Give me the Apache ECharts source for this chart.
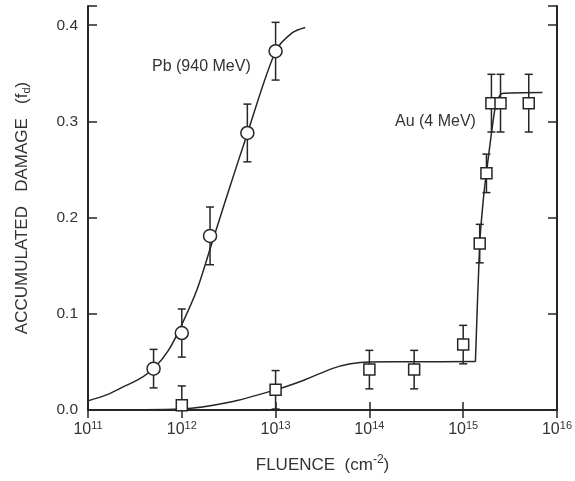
<!DOCTYPE html>
<html><head><meta charset="utf-8">
<script src="https://cdn.jsdelivr.net/npm/echarts@6/dist/echarts.min.js"></script>
<style>html,body{margin:0;padding:0;background:#fff}#c{width:575px;height:481px}</style>
</head><body><div id="c"></div>
<script>
// Pb (940 MeV) measurements
const pbX = [5e11, 1e12, 2e12, 5e12, 1e13];
const pbY = [0.043, 0.080, 0.181, 0.288, 0.373];
const pbErr = [0.020, 0.025, 0.030, 0.030, 0.030];
// Au (4 MeV) measurements
const auX = [1e12, 1e13, 1e14, 3e14, 1e15, 1.5e15, 1.77e15, 2e15, 2.5e15, 5e15];
const auY = [0.005, 0.021, 0.042, 0.042, 0.068, 0.173, 0.246, 0.319, 0.319, 0.319];
const auErr = [0.020, 0.020, 0.020, 0.020, 0.020, 0.020, 0.020, 0.030, 0.030, 0.030];
// fitted curves
const pbCurveX = [1e11, 1.6e11, 2.37e11, 3.5e11, 5.1e11, 7.2e11, 9.8e11, 1.45e12, 2.04e12, 2.95e12, 5.0e12, 1.0e13, 1.5e13, 2.07e13];
const pbCurveY = [0.0095, 0.016, 0.024, 0.032, 0.044, 0.062, 0.087, 0.125, 0.170, 0.219, 0.2875, 0.373, 0.392, 0.3976];
const auLowX = [1e11, 1e12, 3.2e12, 1e13, 2e13, 4e13, 6.3e13, 1e14, 3e14, 1.35e15];
const auLowY = [0.0, 0.001, 0.008, 0.021, 0.031, 0.043, 0.048, 0.050, 0.0502, 0.0503];
const auHighX = [1.35e15, 1.5e15, 1.64e15, 1.77e15, 2.17e15, 2.4e15, 2.6e15, 7e15];
const auHighY = [0.0503, 0.173, 0.219, 0.247, 0.312, 0.325, 0.329, 0.330];
const yTicks = [0.0, 0.1, 0.2, 0.3, 0.4];

const ink = '#262626';
const txt = '#333333';
const font = 'Liberation Sans, Arial, sans-serif';

function zip(a, b) { return a.map((v, i) => [v, b[i]]); }
function errData(xs, ys, es) { return xs.map((x, i) => [x, ys[i] - es[i], ys[i] + es[i]]); }

function errRender(params, api) {
  const x = api.value(0);
  let lo = api.value(1), hi = api.value(2);
  const clipped = lo < 0;
  if (clipped) lo = 0;
  const p1 = api.coord([x, hi]);
  const p2 = api.coord([x, lo]);
  const w = 4;
  const st = { stroke: ink, lineWidth: 1.5 };
  const ch = [
    { type: 'line', shape: { x1: p1[0], y1: p1[1], x2: p2[0], y2: p2[1] }, style: st },
    { type: 'line', shape: { x1: p1[0] - w, y1: p1[1], x2: p1[0] + w, y2: p1[1] }, style: st }
  ];
  if (!clipped) ch.push({ type: 'line', shape: { x1: p2[0] - w, y1: p2[1], x2: p2[0] + w, y2: p2[1] }, style: st });
  return { type: 'group', children: ch };
}

const chart = echarts.init(document.getElementById('c'), null, { renderer: 'canvas' });
const supRich = {
  b: { fontSize: 16, color: txt, fontFamily: font },
  s: { fontSize: 11, color: txt, fontFamily: font, verticalAlign: 'bottom', padding: [0, 0, 9, 0] }
};
const nameRich = {
  b: { fontSize: 17, color: txt, fontFamily: font },
  s: { fontSize: 12, color: txt, fontFamily: font, verticalAlign: 'bottom', padding: [0, 0, 10, 0] }
};
const axLine = { show: true, lineStyle: { color: ink, width: 2 } };
chart.setOption({
  animation: false,
  backgroundColor: '#fff',
  grid: { left: 88, right: 15, top: 6, bottom: 71 },
  xAxis: [{
    type: 'log', logBase: 10, min: 1e11, max: 1e16, position: 'bottom',
    axisLine: axLine, splitLine: { show: false }, minorTick: { show: false },
    axisTick: { inside: true, length: 8, lineStyle: { color: ink, width: 1.5 } },
    axisLabel: {
      margin: 10,
      formatter: v => '{b|10}{s|' + Math.round(Math.log10(v)) + '}',
      rich: supRich
    },
    name: '{b|FLUENCE  (cm}{s|-2}{b|)}',
    nameLocation: 'middle', nameGap: 44,
    nameTextStyle: { rich: nameRich }
  }, {
    type: 'log', logBase: 10, min: 1e11, max: 1e16, position: 'top',
    axisLine: axLine, splitLine: { show: false },
    axisTick: { inside: true, length: 8, lineStyle: { color: ink, width: 1.5 } },
    axisLabel: { show: false }
  }],
  yAxis: [{
    type: 'value', min: 0, max: 0.42, interval: 0.1,
    axisLine: axLine, splitLine: { show: false },
    axisTick: { inside: true, length: 9, lineStyle: { color: ink, width: 1.5 } },
    axisLabel: {
      margin: 10, fontSize: 15.5, color: txt, fontFamily: font,
      formatter: v => yTicks.some(t => Math.abs(t - v) < 1e-9) ? v.toFixed(1) : ''
    },
    name: '{b|ACCUMULATED   DAMAGE   (f}{d|d}{b|)}',
    nameLocation: 'middle', nameGap: 56, nameRotate: 90,
    nameTextStyle: { rich: {
      b: { fontSize: 17, color: txt, fontFamily: font },
      d: { fontSize: 11, color: txt, fontFamily: font, verticalAlign: 'top', padding: [9, 0, 0, 0] }
    } }
  }, {
    type: 'value', min: 0, max: 0.42, interval: 0.1, position: 'right',
    axisLine: axLine, splitLine: { show: false },
    axisTick: { inside: true, length: 9, lineStyle: { color: ink, width: 1.5 } },
    axisLabel: { show: false }
  }],
  series: [
    { type: 'line', data: zip(pbCurveX, pbCurveY), smooth: 0.3, showSymbol: false,
      lineStyle: { color: ink, width: 1.5 }, z: 2 },
    { type: 'line', data: zip(auLowX, auLowY), smooth: 0.3, showSymbol: false,
      lineStyle: { color: ink, width: 1.5 }, z: 2 },
    { type: 'line', data: zip(auHighX, auHighY), smooth: 0.2, showSymbol: false,
      lineStyle: { color: ink, width: 1.5 }, z: 2 },
    { type: 'custom', data: errData(pbX, pbY, pbErr), renderItem: errRender, encode: { x: 0, y: [1, 2] }, z: 3 },
    { type: 'custom', data: errData(auX, auY, auErr), renderItem: errRender, encode: { x: 0, y: [1, 2] }, z: 3 },
    { type: 'scatter', data: zip(pbX, pbY), symbol: 'circle', symbolSize: 13,
      itemStyle: { color: '#fff', borderColor: ink, borderWidth: 1.5, opacity: 1 }, z: 4 },
    { type: 'scatter', data: zip(auX, auY), symbol: 'rect', symbolSize: 11,
      itemStyle: { color: '#fff', borderColor: ink, borderWidth: 1.5, opacity: 1 }, z: 4 }
  ],
  graphic: [
    { type: 'text', left: 152, top: 59, style: { text: 'Pb (940 MeV)', fontSize: 16, fill: txt, fontFamily: font } },
    { type: 'text', left: 395, top: 114, style: { text: 'Au (4 MeV)', fontSize: 16, fill: txt, fontFamily: font } }
  ]
});
</script></body></html>
